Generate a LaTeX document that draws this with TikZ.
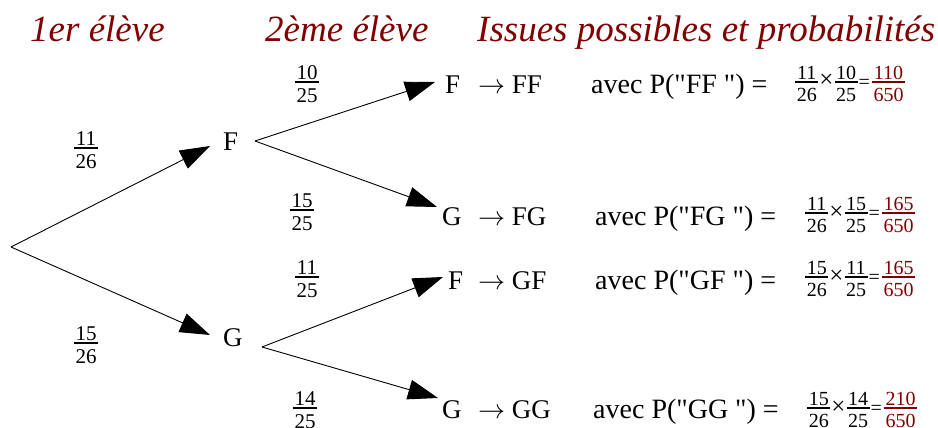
\RequirePackage{fix-cm}
\documentclass[tikz,border=0pt]{standalone}
\usepackage{fontspec}
\setmainfont{Liberation Serif}[Ligatures=TeXOff]
\usetikzlibrary{arrows.meta}
\definecolor{dred}{RGB}{128,0,0}
\newcommand\fr[2]{%
 \setbox0=\hbox{#1}\setbox2=\hbox{#2}%
 \dimen0=\wd0 \ifdim\wd2>\dimen0 \dimen0=\wd2\fi
 \advance\dimen0 by 0.16em
 \vtop{\offinterlineskip\vbox{\hbox to\dimen0{\hfil\box0\hfil}\kern0.1em\hrule height1.2pt}\kern0.3em\hbox to\dimen0{\hfil\box2\hfil}}}
\newcommand\tms{\raisebox{-0.27em}{\fontsize{25}{25}\selectfont ×}}
\newcommand\eqs{\raisebox{-0.3em}{=}}
\begin{document}
\begin{tikzpicture}[x=1pt,y=-1pt,
  head/.style={font=\fontsize{37}{42}\selectfont\itshape, text=dred, inner sep=0pt, anchor=base west},
  lett/.style={font=\fontsize{27}{31}\selectfont, inner sep=0pt, anchor=base west},
  avec/.style={font=\fontsize{28}{32}\selectfont, inner sep=0pt, anchor=base west},
  tfrac/.style={font=\fontsize{21}{25}\selectfont, inner sep=0pt, anchor=base},
  expr/.style={font=\fontsize{20}{24}\selectfont, inner sep=0pt, anchor=base west},
  br/.style={line width=0.9pt, -{Triangle[length=30pt,width=20pt]}}]
\useasboundingbox (0,0) rectangle (938,428);
% headings
\node[head] (h1) at (30,42) {1er élève};
\node[head] (h2) at (265,42) {2ème élève};
\node[head] (h3) at (477,42) {Issues possibles et probabilités};
% tree nodes
\coordinate (root) at (11,247);
\node[lett] (F1) at (223,150) {F};
\node[lett] (G1) at (223,346) {G};
\node[lett] (F2) at (445,93) {F};
\node[lett] (G2) at (442,225) {G};
\node[lett] (F3) at (448,289) {F};
\node[lett] (G4) at (442,418) {G};
% branches
\draw[br] (root) -- ([shift={(-13,-4)}]F1.base west);
\draw[br] (root) -- ([shift={(-13,-11)}]G1.base west);
\draw[br] ([shift={(32,-9)}]F1.base west) -- ([shift={(-10,-11)}]F2.base west);
\draw[br] ([shift={(32,-9)}]F1.base west) -- ([shift={(-5,-18)}]G2.base west);
\draw[br] ([shift={(39,1)}]G1.base west) -- ([shift={(-5,-12)}]F3.base west);
\draw[br] ([shift={(39,1)}]G1.base west) -- ([shift={(-4,-20)}]G4.base west);
% branch probabilities
\node[tfrac] (p1) at (86,148.6) {\fr{11}{26}};
\node[tfrac] (p2) at (86,343.6) {\fr{15}{26}};
\node[tfrac] (p3) at (307,82.6) {\fr{10}{25}};
\node[tfrac] (p4) at (302,210.6) {\fr{15}{25}};
\node[tfrac] (p5) at (307,277.6) {\fr{11}{25}};
\node[tfrac] (p6) at (305,408.6) {\fr{14}{25}};
% outcomes
\node[lett] (o1) at (478,93) {$\rightarrow$ FF};
\node[lett] (o2) at (478,225) {$\rightarrow$ FG};
\node[lett] (o3) at (478,289) {$\rightarrow$ GF};
\node[lett] (o4) at (478,418) {$\rightarrow$ GG};
\node[avec] (a1) at (591,93) {avec P("FF ") =};
\node[avec] (a2) at (595,225) {avec P("FG ") =};
\node[avec] (a3) at (595,289) {avec P("GF ") =};
\node[avec] (a4) at (593,418) {avec P("GG ") =};
\node[expr] (e1) at (795,82.6) {\fr{11}{26}\hspace{1pt}\tms\hspace{1pt}\fr{10}{25}\hspace{1pt}\eqs\hspace{2pt}\textcolor{dred}{\fr{110}{650}}};
\node[expr] (e2) at (805,213.6) {\fr{11}{26}\hspace{1pt}\tms\hspace{1pt}\fr{15}{25}\hspace{1pt}\eqs\hspace{2pt}\textcolor{dred}{\fr{165}{650}}};
\node[expr] (e3) at (805,277.6) {\fr{15}{26}\hspace{1pt}\tms\hspace{1pt}\fr{11}{25}\hspace{1pt}\eqs\hspace{2pt}\textcolor{dred}{\fr{165}{650}}};
\node[expr] (e4) at (807,408.6) {\fr{15}{26}\hspace{1pt}\tms\hspace{1pt}\fr{14}{25}\hspace{1pt}\eqs\hspace{2pt}\textcolor{dred}{\fr{210}{650}}};
\end{tikzpicture}
\end{document}
